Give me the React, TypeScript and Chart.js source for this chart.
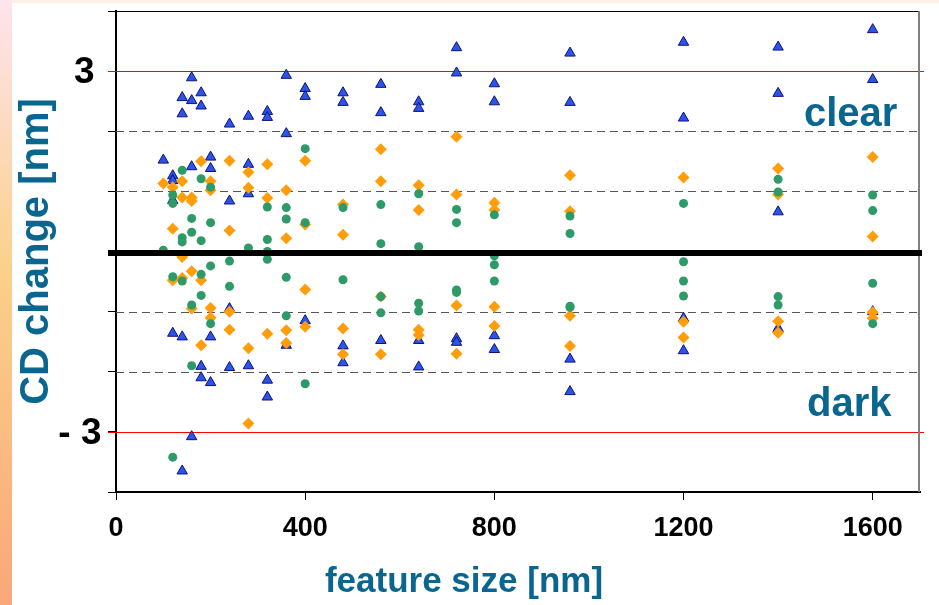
import React, { useEffect, useRef } from 'react';
import { Chart, registerables } from 'chart.js';

Chart.register(...registerables);

// feature size [nm] ticks
const xTickValues = [0, 400, 800, 1200, 1600];
const yLabelValues = [3, -3];
const yLabelTexts = ['3', '- 3'];

// [feature size, CD change]
const triangleSeries: [number, number][] = [
  [100, 1.52],
  [120, 1.26], [120, 1.18], [120, 0.85], [120, -1.36],
  [140, 2.56], [140, 2.29], [140, -1.42], [140, -3.65],
  [160, 2.89], [160, 2.51], [160, 1.41], [160, -3.08],
  [180, 2.64], [180, 2.42], [180, -1.91], [180, -2.1],
  [200, 1.57], [200, 1.38], [200, -1.42], [200, -2.18],
  [240, 2.12], [240, 0.84], [240, -0.95], [240, -1.93],
  [280, 2.25], [280, 1.45], [280, 0.96], [280, -1.9],
  [320, 2.33], [320, 2.23], [320, -2.14], [320, -2.42],
  [360, 2.93], [360, 1.96], [360, -1.56],
  [400, 2.71], [400, 2.58], [400, -1.15],
  [480, 2.64], [480, 2.48], [480, -1.57], [480, -1.85],
  [560, 2.78], [560, 2.31], [560, -1.48],
  [640, 2.49], [640, 2.38], [640, -1.48], [640, -1.92],
  [720, 3.39], [720, 2.97], [720, -1.45], [720, -1.51],
  [800, 2.79], [800, 2.49], [800, -1.4], [800, -1.63],
  [960, 3.3], [960, 2.48], [960, -1.79], [960, -2.33],
  [1200, 3.48], [1200, 2.22], [1200, -1.11], [1200, -1.65],
  [1400, 3.4], [1400, 2.63], [1400, 0.66], [1400, -1.28],
  [1600, 3.69], [1600, 2.86], [1600, -1.0],
];

const diamondSeries: [number, number][] = [
  [100, 1.13],
  [120, 1.07], [120, 0.38], [120, -0.48],
  [140, 1.17], [140, 0.9], [140, -0.09], [140, -0.44],
  [160, 0.9], [160, 0.84], [160, -0.33], [160, -0.95],
  [180, 1.5], [180, -0.48], [180, -1.56],
  [200, 1.17], [200, 1.02], [200, -0.94], [200, -1.1],
  [240, 1.51], [240, 0.35], [240, -1.0], [240, -1.3],
  [280, 1.32], [280, 1.06], [280, -1.61], [280, -2.86],
  [320, 1.45], [320, 0.89], [320, -1.37],
  [360, 1.02], [360, 0.22], [360, -1.31], [360, -1.52],
  [400, 1.51], [400, 0.45], [400, -0.63], [400, -1.25],
  [480, 0.78], [480, 0.28], [480, -1.28], [480, -1.71],
  [560, 1.7], [560, 1.17], [560, -0.75], [560, -1.71],
  [640, 1.1], [640, 0.69], [640, -1.3], [640, -1.39],
  [720, 1.91], [720, 0.95], [720, -0.9], [720, -1.7],
  [800, 0.81], [800, 0.69], [800, -0.92], [800, -1.24],
  [960, 1.27], [960, 0.67], [960, -1.07], [960, -1.57],
  [1200, 1.23], [1200, -1.17], [1200, -1.43],
  [1400, 1.38], [1400, 0.95], [1400, -1.16], [1400, -1.35],
  [1600, 1.57], [1600, 0.25], [1600, -1.01], [1600, -1.11],
];

const circleSeries: [number, number][] = [
  [100, 0.02],
  [120, 0.94], [120, 0.8], [120, -0.42], [120, -3.42],
  [140, 1.35], [140, 0.23], [140, 0.16], [140, -0.49],
  [160, 0.55], [160, 0.32], [160, -0.89], [160, -1.9],
  [180, 1.21], [180, 0.18], [180, -0.38], [180, -0.73],
  [200, 1.07], [200, 0.48], [200, -0.24], [200, -1.2],
  [240, -0.16], [240, -0.58],
  [280, 0.06],
  [320, 0.74], [320, 0.2], [320, 0.0], [320, -0.13],
  [360, 0.73], [360, 0.54], [360, -0.43], [360, -1.07],
  [400, 1.71], [400, 0.48], [400, -2.2],
  [480, 0.73], [480, -0.47],
  [560, 0.78], [560, 0.13], [560, -0.75], [560, -1.02],
  [640, 0.96], [640, 0.08], [640, -0.86], [640, -0.99],
  [720, 0.7], [720, 0.48], [720, -0.64], [720, -0.68],
  [800, 0.61], [800, -0.07], [800, -0.22], [800, -0.49],
  [960, 0.59], [960, 0.3], [960, -0.91], [960, -0.93],
  [1200, 0.8], [1200, -0.17], [1200, -0.49], [1200, -0.74],
  [1400, 1.2], [1400, 0.99], [1400, -0.75], [1400, -0.89],
  [1600, 0.94], [1600, 0.68], [1600, -0.53], [1600, -1.2],
];

const dashedLevels = [2, 1, -1, -2];
const redLevels = [3, -3];

const TEAL = '#0b668f';
const FONT = "'Liberation Sans', Arial, Helvetica, sans-serif";

export default function App() {
  const ref = useRef<HTMLCanvasElement>(null);

  useEffect(() => {
    if (!ref.current) return;
    const toPts = (a: [number, number][]) => a.map(([x, y]) => ({ x, y }));

    const decor = {
      id: 'decor',
      beforeDraw(chart: any) {
        const { ctx, width, height } = chart;
        ctx.save();
        ctx.fillStyle = '#ffffff';
        ctx.fillRect(0, 0, width, height);
        ctx.fillStyle = '#fdeee6';
        ctx.fillRect(0, 0, width, 3);
        const g = ctx.createLinearGradient(0, 0, 0, height);
        g.addColorStop(0, '#fde4ee');
        g.addColorStop(0.45, '#fbd08a');
        g.addColorStop(1, '#f9a77a');
        ctx.fillStyle = g;
        ctx.fillRect(0, 0, 12, height);
        ctx.restore();
      },
      beforeDatasetsDraw(chart: any) {
        const { ctx, chartArea } = chart;
        const ys = chart.scales.y;
        const { left, right, top, bottom } = chartArea;
        ctx.save();
        ctx.lineWidth = 1;
        ctx.strokeStyle = '#555555';
        ctx.setLineDash([8, 5]);
        dashedLevels.forEach((v) => {
          const y = Math.round(ys.getPixelForValue(v)) + 0.5;
          ctx.beginPath();
          ctx.moveTo(left, y);
          ctx.lineTo(right, y);
          ctx.stroke();
        });
        ctx.setLineDash([]);
        ctx.strokeStyle = '#ff0000';
        redLevels.forEach((v) => {
          const y = Math.round(ys.getPixelForValue(v)) + 0.5;
          ctx.beginPath();
          ctx.moveTo(left - 8, y);
          ctx.lineTo(right + 4, y);
          ctx.stroke();
        });
        // frame
        ctx.strokeStyle = '#000000';
        ctx.beginPath();
        ctx.moveTo(left, top + 0.5);
        ctx.lineTo(right, top + 0.5);
        ctx.stroke();
        ctx.strokeStyle = '#808080';
        ctx.lineWidth = 2;
        ctx.beginPath();
        ctx.moveTo(right - 1, top);
        ctx.lineTo(right - 1, bottom);
        ctx.stroke();
        ctx.restore();
      },
      afterDatasetsDraw(chart: any) {
        const { ctx, chartArea } = chart;
        const ys = chart.scales.y;
        ctx.save();
        const y0 = ys.getPixelForValue(0) + 1.5;
        ctx.strokeStyle = '#000000';
        ctx.lineWidth = 6;
        ctx.beginPath();
        ctx.moveTo(chartArea.left - 8, y0);
        ctx.lineTo(chartArea.right + 2, y0);
        ctx.stroke();

        ctx.fillStyle = TEAL;
        ctx.font = `bold 40px ${FONT}`;
        ctx.textAlign = 'left';
        ctx.textBaseline = 'alphabetic';
        ctx.fillText('clear', 804, 126);
        ctx.fillText('dark', 807, 416);

        ctx.font = `bold 35px ${FONT}`;
        ctx.textAlign = 'center';
        ctx.textBaseline = 'middle';
        ctx.fillText('feature size [nm]', 464, 582);

        ctx.fillStyle = '#000000';
        ctx.font = `bold 37px ${FONT}`;
        ctx.textAlign = 'right';
        yLabelValues.forEach((v, i) => {
          const y = ys.getPixelForValue(v) + 2;
          const xr = i === 0 ? 94.5 : 101.5;
          ctx.fillText(yLabelTexts[i], xr, y);
        });
        ctx.restore();
      },
    };

    const chart = new Chart(ref.current, {
      type: 'scatter',
      data: {
        datasets: [
          {
            label: 'circles',
            data: toPts(circleSeries),
            pointStyle: 'circle',
            pointRadius: 4.5,
            pointHoverRadius: 4.5,
            backgroundColor: '#2e9a68',
            borderColor: '#2e9a68',
            borderWidth: 0,
          },
          {
            label: 'diamonds',
            data: toPts(diamondSeries),
            pointStyle: 'rectRot',
            pointRadius: 6,
            pointHoverRadius: 6,
            backgroundColor: '#ff9d0a',
            borderColor: '#ff9d0a',
            borderWidth: 0,
          },
          {
            label: 'triangles',
            data: toPts(triangleSeries),
            pointStyle: 'triangle',
            pointRadius: 6,
            pointHoverRadius: 6,
            backgroundColor: '#2b55e8',
            borderColor: '#10107a',
            borderWidth: 1,
          },
        ],
      },
      options: {
        responsive: false,
        animation: false,
        devicePixelRatio: 1,
        layout: { padding: { left: 0, right: 19, top: 11, bottom: 0 } },
        plugins: {
          legend: { display: false },
          tooltip: { enabled: false },
        },
        scales: {
          x: {
            type: 'linear',
            position: 'bottom',
            min: 0,
            max: 1700,
            afterBuildTicks: (scale: any) => {
              scale.ticks = xTickValues.map((v) => ({ value: v }));
            },
            afterFit: (scale: any) => {
              scale.height = 113;
            },
            grid: {
              drawOnChartArea: false,
              drawTicks: true,
              tickLength: 8,
              color: '#000000',
              lineWidth: 1,
            },
            border: { display: true, color: '#000000', width: 2 },
            ticks: {
              stepSize: 400,
              color: '#000000',
              padding: 12,
              maxRotation: 0,
              callback: (v: any) => String(v),
              font: { family: FONT, size: 27, weight: 'bold' },
            },
            title: { display: false },
          },
          y: {
            type: 'linear',
            min: -4,
            max: 4,
            afterFit: (scale: any) => {
              scale.width = 116;
            },
            grid: {
              drawOnChartArea: false,
              drawTicks: true,
              tickLength: 8,
              color: '#000000',
              lineWidth: 1,
            },
            border: { display: true, color: '#000000', width: 2 },
            ticks: { stepSize: 1, display: false },
            title: {
              display: true,
              text: 'CD change [nm]',
              color: TEAL,
              font: { family: FONT, size: 40, weight: 'bold', lineHeight: 1 },
              padding: { top: 17, bottom: 0 },
            },
          },
        },
      },
      plugins: [decor],
    } as any);

    return () => chart.destroy();
  }, []);

  return (
    <div style={{ position: 'fixed', left: 0, top: 0, width: 939, height: 605 }}>
      <canvas ref={ref} width={939} height={605} style={{ display: 'block', width: 939, height: 605 }} />
    </div>
  );
}
